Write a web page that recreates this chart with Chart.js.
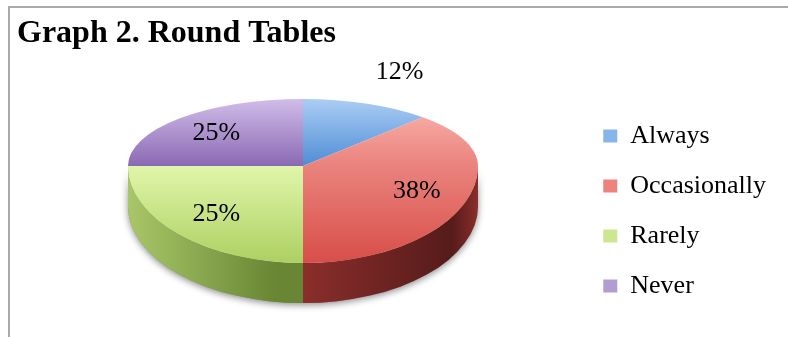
<!DOCTYPE html>
<html>
<head>
<meta charset="utf-8">
<script src="https://cdn.jsdelivr.net/npm/chart.js@4.4.1/dist/chart.umd.min.js"></script>
<style>
 html,body{margin:0;padding:0;background:#fff;}
 #wrap{position:relative;width:788px;height:337px;overflow:hidden;}
 #frame{position:absolute;left:8px;top:6px;width:800px;height:400px;border-top:2px solid #a9a9a9;border-left:2px solid #a9a9a9;}
 canvas{position:absolute;left:0;top:0;}
</style>
</head>
<body>
<div id="wrap"><div id="frame"></div><canvas id="chart" width="788" height="337"></canvas></div>
<script>
const labels = ["Always","Occasionally","Rarely","Never"];
const shares = [12, 38, 25, 25];

/* ---------- COLOURS ---------- */
const baseColors = ["#86b5ea","#ee827d","#cce78f","#b29dd3"];
const topLight  = ["#abcdf4","#f7a8a2","#e0f6ab","#d0bde9"];
const topDark   = ["#4e8dd5","#d84e49","#add061","#8a69b3"];
const sideLight = ["#3f74b3","#8a2e2b","#a9c768","#6e5491"];
const sideDark  = ["#2b5a8f","#561b1a","#688633","#4e3a6b"];

/* ---------- 3D LOOK ---------- */
// the top face is drawn twice: flattened more at the back than at the front
const CX=303, CY=166, RX=175, RY_BACK=67, RY_FRONT=97, DEPTH=40;

function faceTransform(ctx, arc, ry){
 ctx.translate(CX, CY);
 ctx.scale(1, ry/arc.outerRadius);
 ctx.translate(-arc.x, -arc.y);
}

function sliceRange(a, b){
 // vertical extent of a slice (unit circle), centre included
 let lo=Math.min(0, Math.sin(a), Math.sin(b)), hi=Math.max(0, Math.sin(a), Math.sin(b));
 [-Math.PI/2, Math.PI/2, 3*Math.PI/2].forEach(t=>{
  if(t>a && t<b){ lo=Math.min(lo, Math.sin(t)); hi=Math.max(hi, Math.sin(t)); }
 });
 return [lo, hi];
}

const pie3d = {
 id:"pie3d",
 beforeDatasetsDraw(chart){
  const ctx=chart.ctx, arcs=chart.getDatasetMeta(0).data;

  // soft shadow under the wall
  ctx.save();
  ctx.shadowColor="rgba(0,0,0,0.45)"; ctx.shadowBlur=7; ctx.shadowOffsetY=2;
  ctx.beginPath();
  ctx.ellipse(CX, CY, RX, RY_FRONT, 0, 0, Math.PI);
  ctx.ellipse(CX, CY+DEPTH, RX, RY_FRONT, 0, Math.PI, 0, true);
  ctx.closePath();
  ctx.fillStyle="#888"; ctx.fill();
  ctx.restore();

  // visible walls (front half only)
  arcs.forEach((arc,i)=>{
   const a0=Math.max(arc.startAngle, 0), a1=Math.min(arc.endAngle, Math.PI);
   if(a0>=a1) return;
   const xl=CX+RX*Math.cos(a1), xr=CX+RX*Math.cos(a0);
   const g=ctx.createLinearGradient(xl, 0, xr, 0);
   g.addColorStop(0, sideLight[i]);
   g.addColorStop(0.85, sideDark[i]);
   g.addColorStop(1, a0<=0 ? sideLight[i] : sideDark[i]);
   ctx.save();
   ctx.beginPath();
   ctx.ellipse(CX, CY, RX, RY_FRONT, 0, a0, a1, false);
   ctx.ellipse(CX, CY+DEPTH, RX, RY_FRONT, 0, a1, a0, true);
   ctx.closePath();
   ctx.fillStyle=g; ctx.fill();
   ctx.restore();
  });

  // top face shading, light at the far edge of each slice
  arcs.forEach((arc,i)=>{
   const [lo,hi]=sliceRange(arc.startAngle, arc.endAngle);
   const g=ctx.createLinearGradient(0, arc.y+lo*arc.outerRadius, 0, arc.y+hi*arc.outerRadius);
   g.addColorStop(0, topLight[i]);
   g.addColorStop(1, topDark[i]);
   arc.options=Object.assign({}, arc.options, {backgroundColor:g});
  });

  // back half of the top face
  ctx.save();
  ctx.beginPath(); ctx.rect(0, 0, chart.width, CY+1); ctx.clip();
  faceTransform(ctx, arcs[0], RY_BACK);
 },
 afterDatasetsDraw(chart){
  const ctx=chart.ctx, meta=chart.getDatasetMeta(0), arcs=meta.data;
  ctx.restore();

  // front half of the top face
  ctx.save();
  ctx.beginPath(); ctx.rect(0, CY, chart.width, chart.height-CY); ctx.clip();
  faceTransform(ctx, arcs[0], RY_FRONT);
  meta.controller.draw();
  ctx.restore();

  // percentage labels
  const total=shares.reduce((s,v)=>s+v, 0);
  ctx.save();
  ctx.font='26px "Liberation Serif"';
  ctx.fillStyle="#000"; ctx.textAlign="center"; ctx.textBaseline="middle";
  arcs.forEach((arc,i)=>{
   const pct=Math.round(shares[i]/total*100);
   const mid=(arc.startAngle+arc.endAngle)/2;
   const r=pct<15 ? 1.5 : 0.7;
   const s=Math.sin(mid);
   ctx.fillText(pct+"%", CX+RX*r*Math.cos(mid), CY+(s<0?RY_BACK:RY_FRONT)*r*s);
  });
  ctx.restore();
 }
};

/* ---------- CHART ---------- */
new Chart(document.getElementById("chart"),{
 type:"pie",
 data:{labels:labels, datasets:[{data:shares, backgroundColor:baseColors, borderWidth:0, clip:false}]},
 options:{
  responsive:false, animation:false, events:[],
  radius:175,
  layout:{padding:{left:17, right:12, top:0, bottom:14}},
  plugins:{
   title:{display:true, text:"Graph 2. Round Tables", align:"start", color:"#000",
    font:{family:'"Liberation Serif"', size:32, weight:"bold"}, padding:{top:15, bottom:4}},
   legend:{position:"right", align:"end", fullSize:false,
    labels:{boxWidth:14, boxHeight:13, padding:24, color:"#000",
     font:{family:'"Liberation Serif"', size:26}}},
   tooltip:{enabled:false}
  }
 },
 plugins:[pie3d]
});
</script>
</body>
</html>
